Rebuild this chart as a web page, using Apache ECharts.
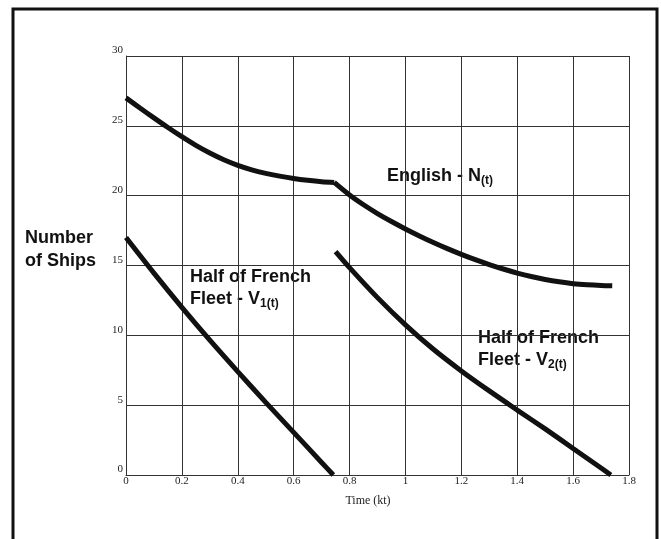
<!DOCTYPE html>
<html><head><meta charset="utf-8">
<script src="https://cdn.jsdelivr.net/npm/echarts@6/dist/echarts.min.js"></script>
<style>html,body{margin:0;padding:0;background:#fff}#c{width:661px;height:539px}</style>
</head><body><div id="c"></div>
<script>
const xTicks = [0, 0.2, 0.4, 0.6, 0.8, 1, 1.2, 1.4, 1.6, 1.8];
const yTicks = [0, 5, 10, 15, 20, 25, 30];
// English fleet N(t): before and after the kink at t≈0.745
const englishT1 = [0,0.05,0.1,0.15,0.2,0.25,0.3,0.35,0.4,0.45,0.5,0.55,0.6,0.65,0.7,0.745];
const englishN1 = [27.0,26.28,25.57,24.88,24.22,23.6,23.05,22.57,22.17,21.85,21.6,21.4,21.23,21.1,21.0,20.95];
const englishT2 = [0.745,0.8,0.85,0.9,0.95,1.0,1.05,1.1,1.15,1.2,1.25,1.3,1.35,1.4,1.45,1.5,1.55,1.6,1.65,1.7,1.74];
const englishN2 = [20.95,20.05,19.35,18.72,18.15,17.62,17.12,16.65,16.21,15.8,15.42,15.07,14.75,14.46,14.21,14.0,13.83,13.7,13.62,13.57,13.55];
const french1T = [0,0.1,0.2,0.3,0.4,0.5,0.6,0.7,0.742];
const french1V = [17.0,14.45,12.0,9.65,7.4,5.2,3.05,0.9,0];
const french2T = [0.75,0.8,0.9,1.0,1.1,1.2,1.3,1.4,1.5,1.6,1.7,1.735];
const french2V = [16.0,14.85,12.7,10.75,9.0,7.45,6.02,4.65,3.3,1.9,0.5,0];

const zip = (a, b) => a.map((v, i) => [v, b[i]]);
const chart = echarts.init(document.getElementById('c'), null, {renderer: 'canvas'});
const lineCol = '#111';
const gridCol = '#333';
const lbl = {
  fontFamily: 'Liberation Sans', fontWeight: 'bold', fontSize: 18, lineHeight: 22, fill: '#111'
};
const rich = {
  sub: {fontFamily: 'Liberation Sans', fontWeight: 'bold', fontSize: 12, verticalAlign: 'bottom', color: '#111'}
};
const lineSeries = (name, data) => ({
  type: 'line', name: name, data: data, showSymbol: false, smooth: 0.3,
  lineStyle: {color: lineCol, width: 5}
});
chart.setOption({
  animation: false,
  backgroundColor: '#fff',
  grid: {left: 126, right: 32, top: 56, bottom: 64, containLabel: false},
  xAxis: {
    type: 'value', min: 0, max: 1.8, interval: 0.2,
    axisLine: {show: true, onZero: false, lineStyle: {color: gridCol, width: 1}},
    axisTick: {show: false},
    splitLine: {show: true, lineStyle: {color: gridCol, width: 1}},
    axisLabel: {margin: 1, fontFamily: 'Liberation Serif', fontSize: 11, color: '#222',
      formatter: v => { const s = xTicks.find(t => Math.abs(t - v) < 1e-9); return s === undefined ? '' : String(s); }}
  },
  yAxis: {
    type: 'value', min: 0, max: 30, interval: 5,
    axisLine: {show: true, lineStyle: {color: gridCol, width: 1}},
    axisTick: {show: false},
    splitLine: {show: true, lineStyle: {color: gridCol, width: 1}},
    axisLabel: {margin: 3, fontFamily: 'Liberation Serif', fontSize: 11, color: '#222', verticalAlign: 'bottom',
      formatter: v => { const s = yTicks.find(t => Math.abs(t - v) < 1e-9); return s === undefined ? '' : String(s); }}
  },
  series: [
    lineSeries('English A', zip(englishT1, englishN1)),
    lineSeries('English B', zip(englishT2, englishN2)),
    lineSeries('French 1', zip(french1T, french1V)),
    lineSeries('French 2', zip(french2T, french2V))
  ],
  graphic: [
    {type: 'rect', shape: {x: 13, y: 9, width: 644, height: 560}, style: {fill: 'none', stroke: '#111', lineWidth: 3}},
    {type: 'text', x: 25, y: 250, style: Object.assign({}, lbl, {text: 'Number\nof Ships', verticalAlign: 'middle', lineHeight: 23})},
    {type: 'text', x: 387, y: 176, style: Object.assign({text: 'English - N{sub|(t)}', rich: rich, verticalAlign: 'middle'}, lbl)},
    {type: 'text', x: 190, y: 288, style: Object.assign({text: 'Half of French\nFleet - V{sub|1(t)}', rich: rich, verticalAlign: 'middle'}, lbl)},
    {type: 'text', x: 478, y: 349, style: Object.assign({text: 'Half of French\nFleet - V{sub|2(t)}', rich: rich, verticalAlign: 'middle'}, lbl)},
    {type: 'text', x: 368, y: 501, style: {text: 'Time (kt)', align: 'center', verticalAlign: 'middle', fontFamily: 'Liberation Serif', fontSize: 12, fill: '#222'}}
  ]
});
</script></body></html>
